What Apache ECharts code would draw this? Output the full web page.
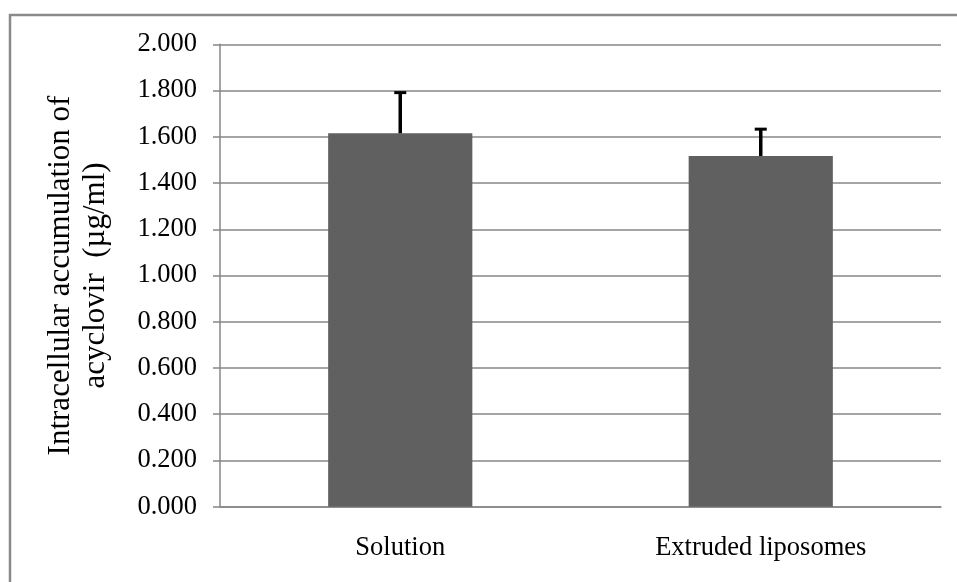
<!DOCTYPE html>
<html>
<head>
<meta charset="utf-8">
<script src="https://cdn.jsdelivr.net/npm/echarts@6/dist/echarts.min.js"></script>
<style>
html,body{margin:0;padding:0;background:#fff;}
#chart{width:957px;height:582px;}
</style>
</head>
<body>
<div id="chart"></div>
<script>
const categories = ["Solution", "Extruded liposomes"];
const meanValues = [1.615, 1.517];
const errorValues = [0.176, 0.116];
const yAxisTitle = "Intracellular accumulation of\nacyclovir  (\u00b5g/ml)";

const FONT = '"Liberation Serif", "Times New Roman", serif';
const chart = echarts.init(document.getElementById('chart'), null, {renderer: 'canvas'});

const errData = categories.map((c, i) => [i, meanValues[i], meanValues[i] + errorValues[i]]);

chart.setOption({
  animation: false,
  backgroundColor: '#ffffff',
  graphic: [{
    type: 'rect',
    shape: {x: 10, y: 15, width: 980, height: 620},
    style: {fill: 'none', stroke: '#8a8a8a', lineWidth: 2.5},
    silent: true
  }],
  grid: {left: 220, right: 16, top: 44.3, bottom: 75.3, containLabel: false},
  xAxis: {
    type: 'category',
    data: categories,
    axisLine: {show: true, lineStyle: {color: '#878787', width: 1.5}},
    axisTick: {show: false},
    axisLabel: {color: '#000', fontFamily: FONT, fontSize: 26.5, margin: 28}
  },
  yAxis: {
    type: 'value',
    min: 0, max: 2, interval: 0.2,
    name: yAxisTitle,
    nameLocation: 'middle',
    nameRotate: 90,
    nameGap: 107,
    nameTextStyle: {color: '#000', fontFamily: FONT, fontSize: 31, lineHeight: 35},
    axisLine: {show: true, lineStyle: {color: '#878787', width: 1.5}},
    axisTick: {show: true, inside: false, length: 7, lineStyle: {color: '#878787', width: 1.5}},
    splitLine: {show: true, lineStyle: {color: '#878787', width: 1.5}},
    axisLabel: {
      color: '#000', fontFamily: FONT, fontSize: 26.5, margin: 23,
      formatter: v => v.toFixed(3)
    }
  },
  series: [
    {
      type: 'bar',
      data: meanValues,
      barWidth: '40%',
      itemStyle: {color: '#606060'},
      z: 2
    },
    {
      type: 'custom',
      data: errData,
      z: 3,
      renderItem: function (params, api) {
        const x = api.value(0);
        const base = api.coord([x, api.value(1)]);
        const top = api.coord([x, api.value(2)]);
        const half = 6;
        return {
          type: 'group',
          children: [
            {type: 'line', shape: {x1: base[0], y1: base[1], x2: top[0], y2: top[1]},
             style: {stroke: '#000', lineWidth: 3.5}},
            {type: 'line', shape: {x1: top[0] - half, y1: top[1], x2: top[0] + half, y2: top[1]},
             style: {stroke: '#000', lineWidth: 3}}
          ]
        };
      }
    }
  ]
});
</script>
</body>
</html>
